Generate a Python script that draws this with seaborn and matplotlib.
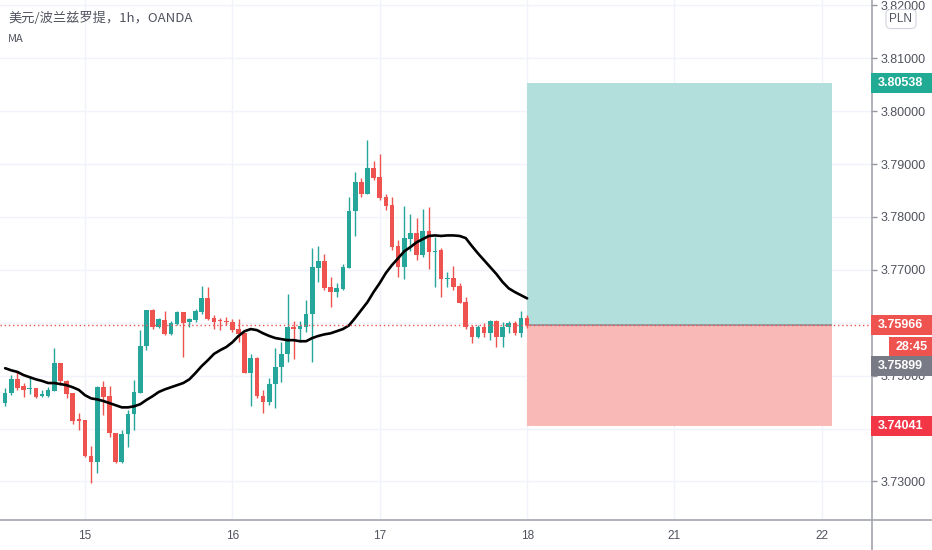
import numpy as np
import pandas as pd
import matplotlib
matplotlib.use("Agg")
import matplotlib.pyplot as plt
from matplotlib.patches import Rectangle
from matplotlib.lines import Line2D
import seaborn as sns

# USD/PLN 1h candles (oldest first), bar 0 = day "15" 00:00
first_bar = -13
opens = [3.7448, 3.7467, 3.7493, 3.7480, 3.7474, 3.7476, 3.7461, 3.7461, 3.7471, 3.7524,
         3.7490, 3.7467, 3.7418, 3.7416, 3.7348, 3.7336, 3.7478, 3.7461, 3.7391, 3.7336,
         3.7389, 3.7427, 3.7467, 3.7556, 3.7624, 3.7592, 3.7605, 3.7578, 3.7597, 3.7620,
         3.7601, 3.7605, 3.7620, 3.7646, 3.7609, 3.7605, 3.7603, 3.7601, 3.7588, 3.7580,
         3.7505, 3.7533, 3.7461, 3.7450, 3.7484, 3.7516, 3.7541, 3.7592, 3.7588, 3.7592,
         3.7616, 3.7703, 3.7716, 3.7667, 3.7658, 3.7663, 3.7703, 3.7811, 3.7866, 3.7843,
         3.7892, 3.7875, 3.7837, 3.7822, 3.7745, 3.7705, 3.7758, 3.7769, 3.7728, 3.7773,
         3.7733, 3.7737, 3.7682, 3.7684, 3.7669, 3.7639, 3.7592, 3.7573, 3.7592, 3.7580,
         3.7603, 3.7573, 3.7592, 3.7599, 3.7580, 3.7609]
highs = [3.7476, 3.7501, 3.7507, 3.7486, 3.7499, 3.7476, 3.7473, 3.7478, 3.7552, 3.7524,
         3.7491, 3.7467, 3.7429, 3.7416, 3.7367, 3.7480, 3.7490, 3.7480, 3.7391, 3.7397,
         3.7435, 3.7491, 3.7586, 3.7624, 3.7626, 3.7609, 3.7622, 3.7603, 3.7622, 3.7620,
         3.7609, 3.7626, 3.7669, 3.7667, 3.7614, 3.7609, 3.7610, 3.7607, 3.7607, 3.7580,
         3.7541, 3.7535, 3.7473, 3.7495, 3.7552, 3.7563, 3.7654, 3.7603, 3.7603, 3.7643,
         3.7741, 3.7745, 3.7730, 3.7686, 3.7675, 3.7711, 3.7837, 3.7885, 3.7873, 3.7945,
         3.7905, 3.7919, 3.7843, 3.7837, 3.7756, 3.7820, 3.7805, 3.7798, 3.7815, 3.7818,
         3.7762, 3.7741, 3.7696, 3.7707, 3.7675, 3.7648, 3.7595, 3.7595, 3.7599, 3.7605,
         3.7605, 3.7601, 3.7603, 3.7603, 3.7622, 3.7614]
lows = [3.7442, 3.7463, 3.7473, 3.7459, 3.7465, 3.7457, 3.7459, 3.7459, 3.7471, 3.7482,
        3.7457, 3.7408, 3.7397, 3.7346, 3.7297, 3.7316, 3.7425, 3.7384, 3.7335, 3.7335,
        3.7365, 3.7397, 3.7467, 3.7548, 3.7588, 3.7590, 3.7576, 3.7576, 3.7595, 3.7535,
        3.7592, 3.7601, 3.7616, 3.7605, 3.7588, 3.7586, 3.7595, 3.7582, 3.7563, 3.7505,
        3.7442, 3.7457, 3.7429, 3.7444, 3.7439, 3.7488, 3.7525, 3.7531, 3.7563, 3.7582,
        3.7525, 3.7677, 3.7662, 3.7629, 3.7648, 3.7662, 3.7703, 3.7764, 3.7837, 3.7843,
        3.7869, 3.7832, 3.7813, 3.7737, 3.7686, 3.7682, 3.7735, 3.7718, 3.7724, 3.7701,
        3.7667, 3.7648, 3.7667, 3.7662, 3.7637, 3.7588, 3.7561, 3.7571, 3.7573, 3.7567,
        3.7554, 3.7554, 3.7580, 3.7576, 3.7573, 3.7590]
closes = [3.7467, 3.7493, 3.7476, 3.7473, 3.7476, 3.7459, 3.7465, 3.7473, 3.7524, 3.7490,
          3.7465, 3.7414, 3.7414, 3.7348, 3.7336, 3.7478, 3.7459, 3.7391, 3.7336, 3.7389,
          3.7427, 3.7469, 3.7556, 3.7624, 3.7592, 3.7607, 3.7578, 3.7599, 3.7620, 3.7599,
          3.7607, 3.7622, 3.7646, 3.7607, 3.7601, 3.7603, 3.7601, 3.7586, 3.7578, 3.7505,
          3.7533, 3.7461, 3.7450, 3.7484, 3.7516, 3.7541, 3.7592, 3.7588, 3.7594, 3.7616,
          3.7705, 3.7716, 3.7665, 3.7658, 3.7665, 3.7705, 3.7811, 3.7866, 3.7843, 3.7892,
          3.7873, 3.7835, 3.7820, 3.7743, 3.7705, 3.7760, 3.7769, 3.7728, 3.7773, 3.7733,
          3.7735, 3.7682, 3.7684, 3.7667, 3.7637, 3.7592, 3.7573, 3.7592, 3.7580, 3.7603,
          3.7573, 3.7592, 3.7599, 3.7580, 3.7609, 3.75966]
# MA line at each bar
ma_vals = [3.7514, 3.7510, 3.7507, 3.7501, 3.7497, 3.7493, 3.7490, 3.7486, 3.7486, 3.7484,
           3.7482, 3.7478, 3.7473, 3.7463, 3.7457, 3.7455, 3.7452, 3.7448, 3.7444, 3.7440,
           3.7440, 3.7442, 3.7446, 3.7454, 3.7461, 3.7469, 3.7474, 3.7478, 3.7482, 3.7486,
           3.7493, 3.7505, 3.7518, 3.7529, 3.7541, 3.7548, 3.7554, 3.7563, 3.7575, 3.7584,
           3.7588, 3.7586, 3.7580, 3.7575, 3.7571, 3.7569, 3.7567, 3.7567, 3.7565, 3.7565,
           3.7571, 3.7575, 3.7578, 3.7580, 3.7584, 3.7588, 3.7595, 3.7609, 3.7624, 3.7639,
           3.7658, 3.7675, 3.7694, 3.7709, 3.7722, 3.7735, 3.7743, 3.7752, 3.7758, 3.7764,
           3.7765, 3.7764, 3.7765, 3.7765, 3.7764, 3.7760, 3.7745, 3.7731, 3.7718, 3.7705,
           3.7692, 3.7677, 3.7665, 3.7658, 3.7652, 3.7646]

day_ticks = [0, 24, 48, 72, 96, 120]
day_labels = ["15", "16", "17", "18", "21", "22"]
price_ticks = [3.73, 3.74, 3.75, 3.76, 3.77, 3.78, 3.79, 3.80, 3.81, 3.82]
hidden_ticks = [3.74, 3.76]  # covered by the price tags on the axis

last_price = 3.75966
prev_close = 3.75899
countdown = "28:45"
target_price = 3.80538
stop_price = 3.74041
entry_price = 3.7595
pos_start, pos_end = 72, 121.7

GREEN = "#26a69a"
RED = "#ef5350"

sns.set_theme(style="white")
plt.rcParams['font.family'] = ['Liberation Sans', 'DejaVu Sans']

W, H = 932, 550
fig = plt.figure(figsize=(W / 100, H / 100), dpi=100)
ax = fig.add_axes([0, 1 - 519 / H, 871 / W, 519 / H])

df = pd.DataFrame({"open": opens, "high": highs, "low": lows, "close": closes, "ma": ma_vals})
df["bar"] = np.arange(len(df)) + first_bar
up = df["close"] >= df["open"]
colors = np.where(up, GREEN, RED)

for y in price_ticks:
    ax.axhline(y, color="#f0f3fa", lw=1, zorder=0)
for x in day_ticks:
    ax.axvline(x, color="#f0f3fa", lw=1, zorder=0)

# position tool (long): target zone and stop zone
ax.add_patch(Rectangle((pos_start, entry_price), pos_end - pos_start, target_price - entry_price,
                       color="#b2dfdb", lw=0, zorder=1))
ax.add_patch(Rectangle((pos_start, stop_price), pos_end - pos_start, entry_price - stop_price,
                       color="#f9b9b6", lw=0, zorder=1))
ax.hlines(entry_price, pos_start, pos_end, color="#8d9199", lw=1.2, zorder=2)

# candles
ax.vlines(df["bar"], df["low"], df["high"], colors=colors, lw=1, zorder=3)
body_lo = np.minimum(df["open"], df["close"])
body_h = np.maximum((df["close"] - df["open"]).abs(), 0.00005)
ax.bar(df["bar"], body_h, bottom=body_lo, width=0.76, color=colors, lw=0, zorder=4)

sns.lineplot(data=df, x="bar", y="ma", ax=ax, color="black", lw=1.9, zorder=5)

ax.axhline(last_price, color=RED, lw=1, ls=(0, (1, 2)), zorder=6)

ax.set_xlim(-13.84, 128.0)
ax.set_ylim(3.7229, 3.8210)
ax.set_xticks(day_ticks)
ax.set_xticklabels(day_labels)
ax.set_yticks(price_ticks)
ax.set_yticklabels(["" if p in hidden_ticks else f"{p:.5f}" for p in price_ticks])
ax.yaxis.tick_right()
ax.set_xlabel("")
ax.set_ylabel("")
ax.tick_params(axis="y", length=4, width=1, color="#9598a1", pad=3, labelsize=9, labelcolor="#50535e")
ax.tick_params(axis="x", length=3, width=1, color="#9598a1", pad=5, labelsize=8.5, labelcolor="#50535e")
for s in ax.spines.values():
    s.set_visible(False)

# axis lines spanning the whole canvas
fig.add_artist(Line2D([0, 1], [1 - 519.5 / H] * 2, transform=fig.transFigure, color="#a3a6af", lw=1.2))
fig.add_artist(Line2D([871.5 / W] * 2, [0, 1], transform=fig.transFigure, color="#a3a6af", lw=1.2))


def price_tag(price, text, color, dy=0, x0=871, w=61, h=20):
    ypx = ax.transData.transform((0, price))[1] - dy
    fig.add_artist(Rectangle((x0 / W, (ypx - h / 2) / H), w / W, h / H,
                             transform=fig.transFigure, color=color, lw=0, zorder=10))
    fig.text((x0 + 7) / W, ypx / H, text, color="white", fontsize=9, va="center", ha="left",
             fontweight="bold", zorder=11)


price_tag(target_price, f"{target_price:.5f}", "#22ab94")
price_tag(last_price, f"{last_price:.5f}", RED)
price_tag(last_price, countdown, RED, dy=22, x0=889, w=43)
price_tag(last_price, f"{prev_close:.5f}", "#787b86", dy=41)
price_tag(stop_price, f"{stop_price:.5f}", "#f23645")

fig.text(901 / W, 1 - 19 / H, "PLN", fontsize=8.5, color="#50535e", ha="center", va="center",
         bbox=dict(boxstyle="round,pad=0.3,rounding_size=0.4", fc="white", ec="#d1d4dc", lw=0.8))

fig.text(8 / W, 1 - 18 / H, "美元/波兰兹罗提，1h，OANDA", fontsize=9.5, color="#50535e",
         ha="left", va="center", family=["Noto Sans CJK SC", "DejaVu Sans"])
fig.text(8 / W, 1 - 39 / H, "MA", fontsize=8, color="#50535e", ha="left", va="center",
         family=["Noto Sans CJK SC", "DejaVu Sans"])

fig.savefig("out.png", dpi=100)
